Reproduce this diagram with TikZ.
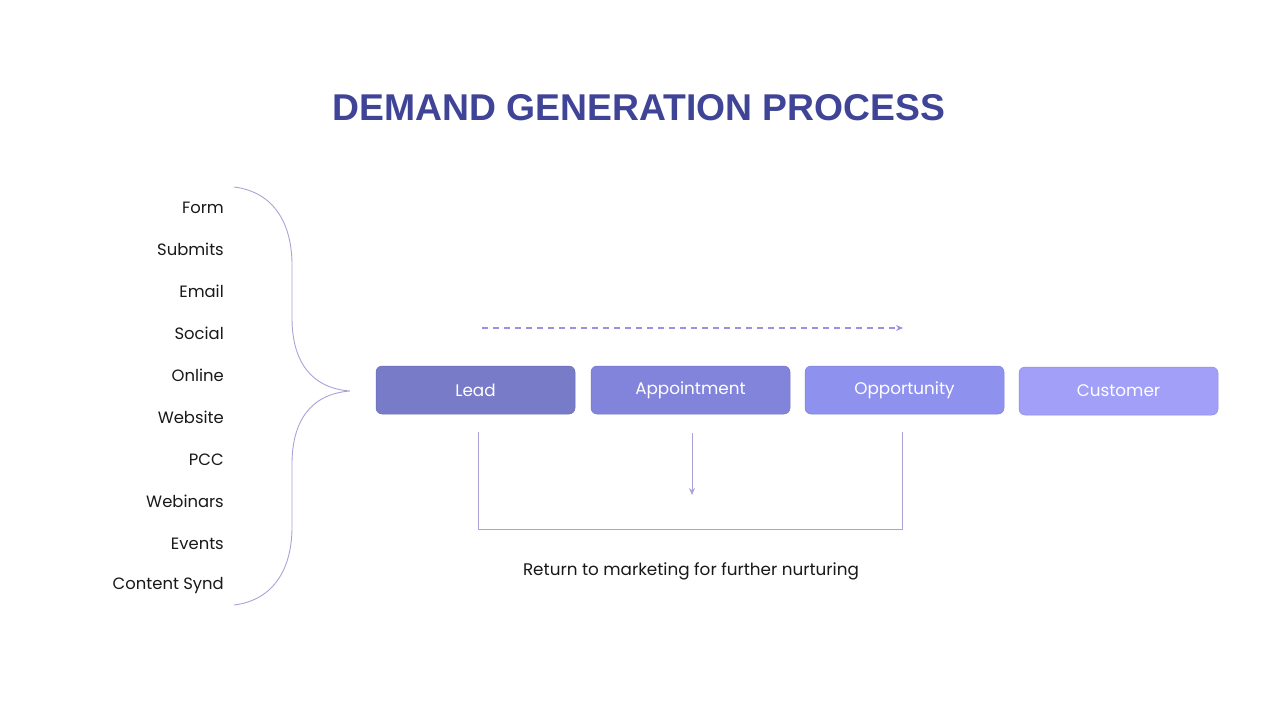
\documentclass[tikz,border=0pt]{standalone}
\usepackage{fontspec}
\setmainfont{Poppins}
\newfontfamily\titlefont{Liberation Sans}
\usetikzlibrary{arrows.meta}
\definecolor{titleblue}{HTML}{3F4497}
\definecolor{cLead}{HTML}{777BC8}
\definecolor{cAppt}{HTML}{8184DA}
\definecolor{cOpp}{HTML}{8F91EE}
\definecolor{cCust}{HTML}{A19FF8}
\definecolor{lineC}{HTML}{A9A4D8}
\definecolor{arrC}{HTML}{9D90E2}
\tikzset{
  stagebox/.style={rounded corners=6pt, minimum width=199pt, minimum height=48pt, inner sep=0pt, text=white, font=\fontsize{16.8}{20}\selectfont, draw=#1!90!black, line width=0.5pt, fill=#1},
  srclabel/.style={anchor=east, inner sep=0pt, font=\fontsize{16.4}{19}\selectfont, text=black!90},
  thinline/.style={draw=lineC, line width=0.9pt},
}
\begin{document}
\begin{tikzpicture}[x=1pt,y=-1pt]
\useasboundingbox[fill=white] (0,0) rectangle (1280,720);
\node[font=\titlefont\bfseries\fontsize{37.3}{44}\selectfont, text=titleblue, inner sep=0pt] (title) at (639,108) {DEMAND GENERATION PROCESS};

\node[stagebox=cLead] (lead) at (475.5,390) {Lead};
\node[stagebox=cAppt] (appt) at (690.5,390) {Appointment};
\node[stagebox=cOpp] (opp) at (904.5,390) {Opportunity};
\node[stagebox=cCust] (cust) at (1118.5,391) {Customer};

\coordinate (dashS) at (482,328);
\coordinate (dashE) at (903,328);
\draw[arrC, line width=1.2pt, dash pattern=on 6pt off 5pt, -{Stealth[length=7pt,width=6pt]}] (dashS) -- (dashE);

\coordinate (l1) at (478,432);
\coordinate (l2) at (478,529);
\coordinate (r1) at (902,529);
\coordinate (r2) at (902,432);
\draw[thinline] (l1) -- (l2) -- (r1) -- (r2);
\coordinate (m1) at (692,433);
\coordinate (m2) at (692,495);
\draw[thinline, -{Stealth[length=7pt,width=6pt]}] (m1) -- (m2);
\node[font=\fontsize{16.8}{20}\selectfont, text=black!90, inner sep=0pt] (ret) at (691,571) {Return to marketing for further nurturing};

\foreach \t [count=\i from 0] in {Form,Submits,Email,Social,Online,Website,PCC,Webinars,Events,Content Synd}{
  \node[srclabel] (s\i) at (224,{207.5+42*\i}) {\t};
}

\coordinate (bt) at (234,187);
\coordinate (bm) at (350,391);
\coordinate (bb) at (234,605);
\draw[draw=lineC, line width=0.9pt]
  (bt) .. controls (275,192) and (292,225) .. (292,265)
  -- (292,318) .. controls (292,360) and (310,388) .. (bm)
  .. controls (310,394) and (292,422) .. (292,464)
  -- (292,527) .. controls (292,567) and (275,600) .. (bb);
\end{tikzpicture}
\end{document}
